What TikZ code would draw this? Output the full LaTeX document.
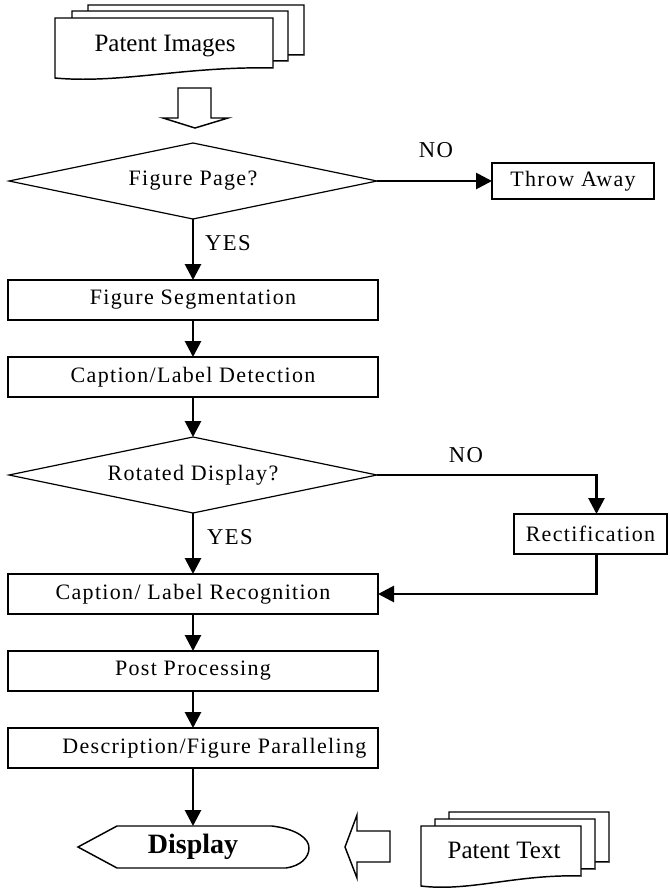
\documentclass[tikz,border=0pt]{standalone}
\usepackage{fontspec}
\setmainfont{Liberation Serif}
\newfontfamily\spaced{Liberation Serif}[LetterSpace=6]
\usetikzlibrary{positioning,shapes.geometric,arrows.meta}

\begin{document}
\begin{tikzpicture}[x=0.75pt,y=-0.75pt]
\tikzstyle{proc}=[rectangle, draw=black, line width=1.1pt, minimum width=277.5pt, minimum height=30pt, inner sep=0pt, outer sep=0pt, font=\spaced\fontsize{16.5}{18}\selectfont, node distance=27.75pt]
\tikzstyle{decision}=[diamond, aspect=5, draw=black, line width=0.9pt, minimum width=276pt, minimum height=57pt, inner sep=0pt, outer sep=0pt, font=\spaced\fontsize{16.5}{18}\selectfont]
\tikzstyle{connect}=[-{Triangle[length=12pt,width=12pt]}, line width=2.1pt]
\tikzstyle{page}=[draw=black, line width=1.1pt, fill=white]
\tikzstyle{hollow}=[draw=black, line width=1.1pt]
\tikzstyle{answer}=[font=\spaced\fontsize{17}{18}\selectfont]
\tikzstyle{doctext}=[font=\fontsize{18.75}{21}\selectfont]
  \useasboundingbox (0,0) rectangle (669,890);

  % input documents
  \draw[page] (88,5) -- (304,5) -- (304,55) .. controls (218,53) and (153,71) .. (88,65) -- cycle;
  \draw[page] (72,11) -- (288,11) -- (288,61) .. controls (202,59) and (137,77) .. (72,71) -- cycle;
  \draw[page] (55,18) -- (273,18) -- (273,68) .. controls (186,66) and (120,84) .. (55,78) -- cycle;
  \node[doctext] (pimg) at (165,46) {Patent Images};
  \draw[hollow] (178,88) -- (211,88) -- (211,118) -- (228,118) -- (195,128) -- (163,118) -- (178,118) -- cycle;

  \node[decision] (figpage) at (193,181) {Figure Page?};
  \node[proc] (throw) at (573,181) [minimum width=121.5pt, minimum height=27pt] {Throw Away};
  \node[proc] (seg) [below=45.75pt of figpage] {Figure Segmentation};
  \node[proc] (detect) [below=of seg] {Caption/Label Detection};
  \node[decision] (rotated) [below=30pt of detect] {Rotated Display?};
  \node[proc] (rectify) at (590.5,534) [minimum width=114.75pt] {Rectification};
  \node[proc] (recog) [below=45.75pt of rotated] {Caption/ Label Recognition};
  \node[proc] (post) [below=of recog] {Post Processing};
  \node[proc] (desc) [below=of post, label={[xshift=16pt, font=\spaced\fontsize{16.5}{18}\selectfont]center:Description/Figure Paralleling}] {};
  \node (disp) [below=43.5pt of desc, minimum height=31.5pt, inner sep=0pt, font=\bfseries\fontsize{21}{24}\selectfont] {Display};
  \draw[hollow] (117,826) -- (272,826) .. controls (296,829) and (309,838) .. (309,848) .. controls (309,858) and (300,866) .. (286,868) -- (117,868) -- (78,847) -- cycle;

  \node[answer] (no1) at (436,150) {NO};
  \node[answer] (yes1) at (228,243) {YES};
  \node[answer] (no2) at (466,455) {NO};
  \node[answer] (yes2) at (230,537) {YES};

  \path (figpage) edge [connect] (throw)
	(figpage) edge [connect] (seg)
	(seg) edge [connect] (detect)
	(detect) edge [connect] (rotated)
	(rotated) edge [connect] (recog)
	(recog) edge [connect] (post)
	(post) edge [connect] (desc)
	(desc) edge [connect] (disp);
  \draw[connect] (rotated.east) -| ([xshift=4.5pt]rectify.north);
  \draw[connect] ([xshift=4.5pt]rectify.south) |- (recog.east);

  % second input
  \draw[page] (449,812) -- (609,812) -- (609,862) .. controls (545,860) and (497,878) .. (449,872) -- cycle;
  \draw[page] (435,819) -- (595,819) -- (595,869) .. controls (531,867) and (483,885) .. (435,879) -- cycle;
  \draw[page] (421,826) -- (581,826) -- (581,876) .. controls (517,874) and (469,892) .. (421,886) -- cycle;
  \node[doctext] (ptext) at (504,850) {Patent Text};
  \draw[hollow] (390,831) -- (357,831) -- (357,815) -- (345,847) -- (357,878) -- (357,862) -- (390,862) -- cycle;
\end{tikzpicture}
\end{document}
